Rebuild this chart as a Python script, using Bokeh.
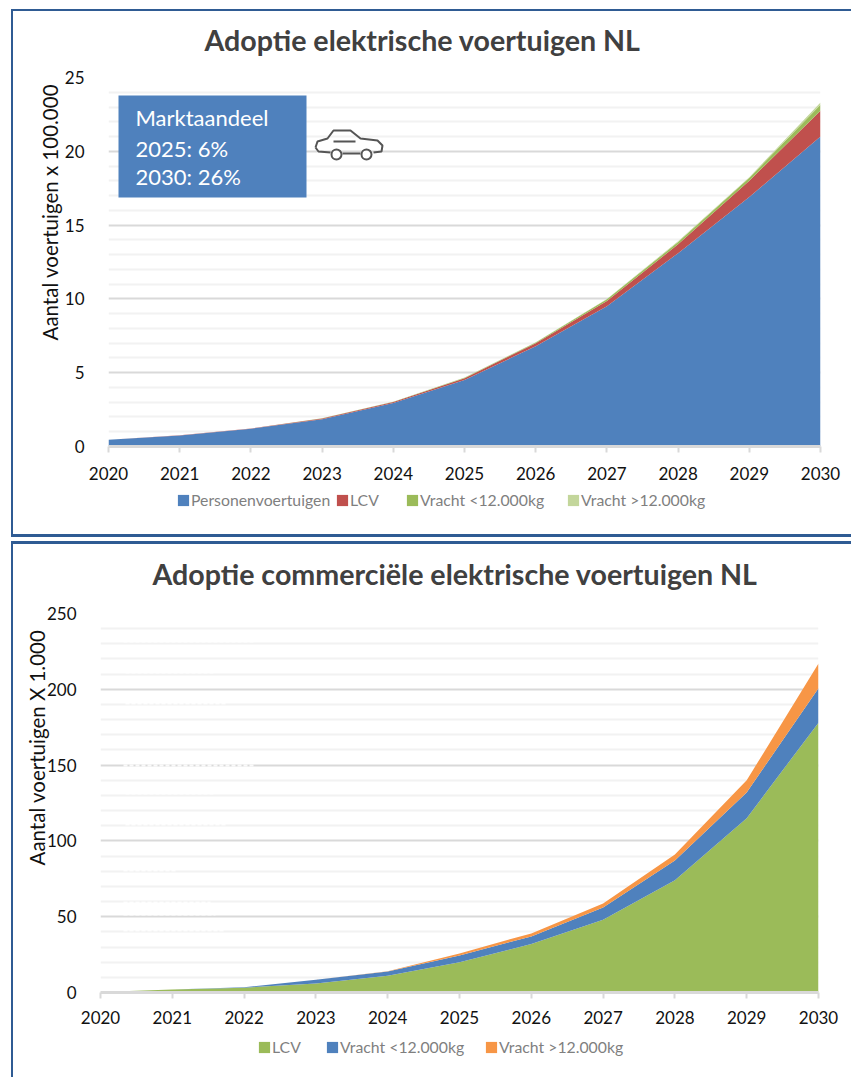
from bokeh.plotting import figure
from bokeh.layouts import column, row
from bokeh.models import (ColumnDataSource, FixedTicker, Label, BoxAnnotation, Legend, LegendItem, Title, Div, Spacer)
from bokeh.embed import file_html
from bokeh.resources import INLINE

years = [2020, 2021, 2022, 2023, 2024, 2025, 2026, 2027, 2028, 2029, 2030]

# Chart 1 (x 100.000 vehicles)
personen = [0.45, 0.75, 1.2, 1.85, 2.95, 4.5, 6.8, 9.5, 13.1, 16.9, 21.0]
lcv1 = [0.01, 0.01, 0.02, 0.05, 0.07, 0.13, 0.2, 0.35, 0.6, 1.1, 1.75]
vracht_lt1 = [0.0, 0.0, 0.0, 0.01, 0.02, 0.03, 0.05, 0.12, 0.15, 0.2, 0.4]
vracht_gt1 = [0.0, 0.0, 0.0, 0.0, 0.0, 0.01, 0.01, 0.03, 0.05, 0.05, 0.15]

# Chart 2 (x 1.000 vehicles)
lcv2 = [0.3, 2.0, 3.2, 6.0, 11.0, 20.0, 32.0, 48.0, 74.0, 115.0, 178.0]
vracht_lt2 = [0.0, 0.0, 0.2, 2.4, 2.8, 4.4, 5.0, 8.0, 13.0, 17.0, 22.7]
vracht_gt2 = [0.0, 0.0, 0.0, 0.0, 0.2, 1.4, 2.0, 2.7, 4.0, 8.0, 16.3]

ticks1 = [0, 5, 10, 15, 20, 25]
minor1 = [1, 2, 3, 4, 6, 7, 8, 9, 11, 12, 13, 14, 16, 17, 18, 19, 21, 22, 23, 24]
ticks2 = [0, 50, 100, 150, 200, 250]
minor2 = [v for v in range(0, 251, 10) if v % 50]

title1 = "Adoptie elektrische voertuigen NL"
title2 = "Adoptie commerciële elektrische voertuigen NL"
ylabel1 = "Aantal voertuigen  x 100.000"
ylabel2 = "Aantal voertuigen  X 1.000"
names1 = ["Personenvoertuigen", "LCV", "Vracht <12.000kg", "Vracht >12.000kg"]
names2 = ["LCV", "Vracht <12.000kg", "Vracht >12.000kg"]
colors1 = ["#4f81bd", "#c0504d", "#9bbb59", "#c3d69b"]
colors2 = ["#9bbb59", "#4f81bd", "#f79646"]
box_lines = ["Marktaandeel", "2025: 6%", "2030: 26%"]

FONT = "Lato"
FRAME = "#2f5b93"
W = 838


def make(height, left, top, fw, fh, ymax, ticks, minor, ylabel, yl_off, yl_stand, names, colors, cols, xstand):
    p = figure(width=W, height=height, output_backend="svg", toolbar_location=None,
               x_range=(2020, 2030), y_range=(0, ymax), frame_width=fw, frame_height=fh,
               min_border_left=left, min_border_top=top, min_border_right=W - left - fw,
               min_border_bottom=height - top - fh, outline_line_color=None)
    src = ColumnDataSource(dict(x=years, **{n: c for n, c in zip(names, cols)}))
    p.varea_stack(stackers=names, x="x", color=colors, source=src)

    p.xaxis.ticker = FixedTicker(ticks=years)
    p.xaxis.major_label_overrides = {y: str(y) for y in years}
    p.yaxis.ticker = FixedTicker(ticks=ticks, minor_ticks=minor)
    p.xaxis.axis_line_color = "#d9d9d9"
    p.xaxis.axis_line_width = 3
    p.xaxis.major_tick_line_color = "#d9d9d9"
    p.xaxis.major_tick_line_width = 2
    p.xaxis.major_tick_out = 6
    p.xaxis.major_tick_in = 0
    p.xaxis.minor_tick_line_color = None
    p.xaxis.major_label_standoff = xstand
    p.yaxis.axis_line_color = None
    p.yaxis.major_tick_line_color = None
    p.yaxis.minor_tick_line_color = None
    p.yaxis.major_label_standoff = 18
    for ax in (p.xaxis[0], p.yaxis[0]):
        ax.major_label_text_font = FONT
        ax.major_label_text_font_size = "17px"
        ax.major_label_text_color = "#111111"
    p.xgrid.grid_line_color = None
    p.ygrid.grid_line_color = "#d9d9d9"
    p.ygrid.grid_line_width = 2
    p.ygrid.minor_grid_line_color = "#f2f2f2"
    p.ygrid.minor_grid_line_width = 2

    p.add_layout(Title(text=ylabel, align="left", offset=yl_off, standoff=yl_stand, text_font=FONT,
                       text_font_size="20.5px", text_font_style="normal", text_color="#111111"), "left")
    return p


def strip(height):
    f = figure(width=W, height=height, output_backend="svg", toolbar_location=None,
               x_range=(0, W), y_range=(0, height), x_axis_location=None, y_axis_location=None,
               min_border=0, outline_line_color=None)
    f.grid.grid_line_color = None
    return f


def title_fig(height, text, x, y):
    f = strip(height)
    f.add_layout(Label(x=x, y=y, text=text, text_font=FONT, text_font_size="28.6px", text_font_style="bold",
                       text_color="#404040", text_baseline="middle"))
    return f


def legend_fig(height, names, colors, xs, y):
    f = strip(height)
    for n, c, x in zip(names, colors, xs):
        # legend swatch source: lies outside the visible range
        r = f.varea(x=[-20, -10], y1=[0, 0], y2=[1, 1], color=c)
        f.add_layout(Legend(items=[LegendItem(label=n, renderers=[r])], location=(x, y),
                            border_line_color=None, background_fill_alpha=0, padding=0, margin=0,
                            glyph_width=14, glyph_height=14, label_standoff=1, label_height=14,
                            label_text_font=FONT, label_text_font_size="15.8px", label_text_color="#7f7f7f"),
                     "center")
    return f


t1 = title_fig(50, title1, 191, 22)
t2 = title_fig(50, title2, 139, 21)
p1 = make(429, 95, 16, 712, 369, 25, ticks1, minor1, ylabel1, 106, 0, names1, colors1,
          [personen, lcv1, vracht_lt1, vracht_gt1], 14)
p2 = make(439, 87, 19, 718, 379, 250, ticks2, minor2, ylabel2, 127, -11, names2, colors2,
          [lcv2, vracht_lt2, vracht_gt2], 12)
leg1 = legend_fig(44, names1, colors1, [163, 322, 392, 553], 25)
leg2 = legend_fig(44, names2, colors2, [244, 312, 471], 21)


def px1(x, y):
    return 2020 + (x - 108) / 71.2, (446 - y) / 14.76


def px2(x, y):
    return 2020 + (x - 100) / 71.8, (992 - y) / 1.516


(l, b), (r, t) = px1(118, 197), px1(306, 95)
p1.add_layout(BoxAnnotation(left=l, right=r, bottom=b, top=t, fill_color="#4f81bd", fill_alpha=1,
                            line_color=None, level="annotation"))
for s, yy in zip(box_lines, [117, 148, 176]):
    x0, y0 = px1(135, yy)
    p1.add_layout(Label(x=x0, y=y0, text=s, text_color="white", text_font=FONT, text_font_size="22px",
                        text_baseline="middle", level="annotation"))

car_body = [(315, 147), (317, 141), (327, 138), (333, 130), (350, 130), (360, 138), (377, 140), (382, 145),
            (381, 151), (373, 152)]
car_low = [(342, 153), (360, 153)]
car_rear = [(330, 152), (318, 151), (315, 147)]
car_dash = [(333, 141), (355, 141)]
car_xs, car_ys = [], []
for seg in (car_body, car_low, car_rear, car_dash):
    pts = [px1(*q) for q in seg]
    car_xs.append([q[0] for q in pts])
    car_ys.append([q[1] for q in pts])
p1.multi_line(car_xs, car_ys, line_color="#555555", line_width=2)
wheels = [px1(336, 154), px1(366, 154)]
p1.scatter([q[0] for q in wheels], [q[1] for q in wheels], size=10, fill_color="white",
           line_color="#555555", line_width=2)

for yy, x0, x1 in [(641, 123, 255), (672, 125, 215), (703, 125, 225), (765, 123, 255), (793, 125, 215),
                   (824, 125, 225), (870, 123, 175), (902, 123, 210), (914, 123, 215), (930, 123, 225)]:
    a, c = px2(x0, yy), px2(x1, yy)
    p2.line([a[0], c[0]], [a[1], c[1]], line_color="white", line_width=2, line_dash="4 2", line_alpha=0.85)


def bar(w, h):
    return Div(text="", width=w, height=h, margin=0, styles={"background-color": FRAME})


def sp(w, h):
    return Spacer(width=w, height=h, margin=0)


page = column(
    sp(851, 9),
    row(sp(11, 2), bar(840, 2), spacing=0),
    row(sp(11, 523), bar(2, 523), column(column(t1), column(p1), column(leg1), spacing=0), spacing=0),
    row(sp(11, 3), bar(840, 3), spacing=0),
    sp(851, 4),
    row(sp(11, 3), bar(840, 3), spacing=0),
    row(sp(11, 533), bar(2, 533), column(column(t2), column(p2), column(leg2), spacing=0), spacing=0),
    spacing=0,
)
open("out.html", "w").write(file_html(page, INLINE))
